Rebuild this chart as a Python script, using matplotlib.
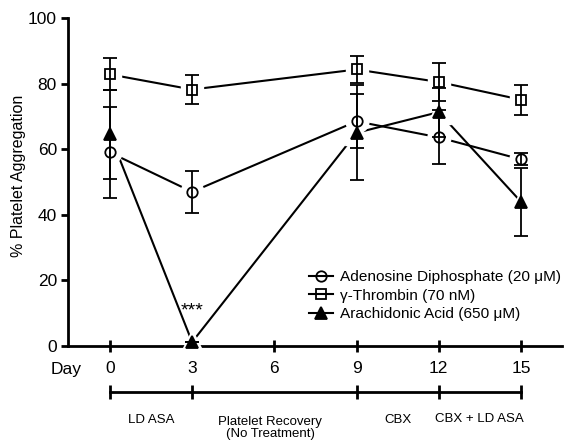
import matplotlib
matplotlib.use("Agg")
import matplotlib.pyplot as plt
import numpy as np
from matplotlib.lines import Line2D

plt.rcParams['font.family'] = ['Liberation Sans', 'DejaVu Sans']

days = [0, 3, 9, 12, 15]
adp_mean = [59.0, 47.0, 68.5, 63.6, 56.9]
adp_err = [14.0, 6.5, 8.2, 8.2, 1.8]
thr_mean = [82.8, 78.2, 84.3, 80.5, 75.1]
thr_err = [4.9, 4.3, 4.0, 5.8, 4.6]
aa_mean = [64.5, 1.2, 65.0, 71.3, 44.0]
aa_err = [13.5, 0.0, 14.5, 7.5, 10.4]

xticks = [0, 3, 6, 9, 12, 15]
phase_bounds = [0, 3, 9, 12, 15]
phase_labels = ["LD ASA", "Platelet Recovery\n(No Treatment)", "CBX", "CBX + LD ASA"]
phase_centers = [1.5, 5.85, 10.5, 13.5]
series_labels = ["Adenosine Diphosphate (20 \u03bcM)", "\u03b3-Thrombin (70 nM)", "Arachidonic Acid (650 \u03bcM)"]

W, H = 569, 443
fig = plt.figure(figsize=(W / 100, H / 100), dpi=100)
L, R, B, T = 68, 562, 346, 18
ax = fig.add_axes([L / W, 1 - B / H, (R - L) / W, (B - T) / H])

ax.set_xlim(-1.53, 16.5)
ax.set_ylim(0, 100)

lw = 1.5
series = [
    (adp_mean, adp_err, 'o', 'none', 7.5),
    (thr_mean, thr_err, 's', 'none', 7.5),
    (aa_mean, aa_err, '^', 'black', 8.0),
]

handles = []
for (m, e, mk, fc, ms), lab in zip(series, series_labels):
    ax.plot(days, m, '-', color='black', lw=lw, zorder=2, clip_on=False)
    ax.plot(days, m, linestyle='none', marker=mk, ms=ms + 9, mfc='white', mec='white', zorder=3, clip_on=False)
for (m, e, mk, fc, ms) in series:
    ax.errorbar(days, m, yerr=e, fmt='none', ecolor='black', elinewidth=1.3, capsize=5, capthick=1.3, zorder=4, clip_on=False)
for (m, e, mk, fc, ms), lab in zip(series, series_labels):
    ax.plot(days, m, linestyle='none', marker=mk, ms=ms, mfc=fc, mec='black', mew=1.3, zorder=5, clip_on=False)
    handles.append(Line2D([], [], color='black', lw=lw, marker=mk, ms=ms, mfc=fc, mec='black', mew=1.3))

ax.legend(handles, series_labels, loc='upper left', bbox_to_anchor=(0.487, 0.232), frameon=False,
          fontsize=11.1, handlelength=1.6, handletextpad=0.45, labelspacing=0.3, borderaxespad=0, borderpad=0)

ax.text(3, 10.7, "***", ha='center', va='center', fontsize=14)

for s in ['top', 'right']:
    ax.spines[s].set_visible(False)
for s in ['left', 'bottom']:
    ax.spines[s].set_linewidth(2)

ax.set_yticks([0, 20, 40, 60, 80, 100])
ax.set_xticks(xticks)
ax.tick_params(axis='y', direction='out', length=5, width=2, labelsize=12.5, pad=3)
ax.tick_params(axis='x', direction='inout', length=9, width=2, labelsize=12.5, pad=6)
ax.set_ylabel("% Platelet Aggregation", fontsize=11.5)
ax.yaxis.set_label_coords(-0.085, 0.52)
ax.text(0.028, -0.072, "Day", transform=ax.transAxes, ha='right', va='center', fontsize=12.5)

# timeline axis
ty = (B - 392) / (B - T)
trans = ax.get_xaxis_transform()
ax.plot([phase_bounds[0], phase_bounds[-1]], [ty, ty], color='black', lw=2, transform=trans, clip_on=False)
ax.plot(phase_bounds, [ty] * len(phase_bounds), linestyle='none', marker='|', ms=10, mew=2, color='black',
        transform=trans, clip_on=False)
label_y = [(B - 420) / (B - T), (B - 428) / (B - T), (B - 420) / (B - T), (B - 419) / (B - T)]
for c, lab, yy in zip(phase_centers, phase_labels, label_y):
    ax.text(c, yy, lab, transform=trans, ha='center', va='center', fontsize=9.5, linespacing=1.0)

fig.savefig("out.png", dpi=100)
